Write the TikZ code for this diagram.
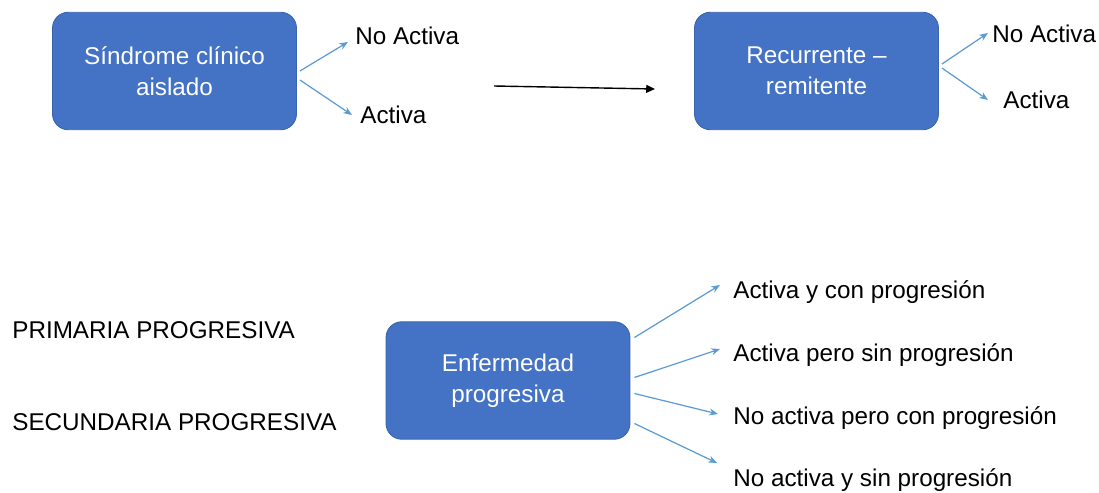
\documentclass[tikz,border=0pt]{standalone}
\usepackage{fontspec}
\setmainfont{Liberation Sans}
\usetikzlibrary{arrows.meta,calc}
\definecolor{boxblue}{HTML}{4472C4}
\definecolor{boxedge}{HTML}{3B64AE}
\definecolor{linkblue}{HTML}{5B9BD5}
\tikzset{
  formabox/.style={draw=boxedge, line width=0.5pt, fill=boxblue, rounded corners=9pt,
    text=white, align=center, minimum width=4.88cm, minimum height=2.35cm,
    font=\fontsize{13.8}{17.6}\selectfont},
  rama/.style={anchor=base west, inner sep=0pt, font=\fontsize{13.8}{16}\selectfont},
  flecha/.style={draw=linkblue, line width=0.7pt, -{Stealth[length=5pt,width=4pt]}},
}

\begin{document}
\begin{tikzpicture}[x=0.02cm, y=-0.02cm]
	%%%%% START %%%%%
	\useasboundingbox (0,0) rectangle (1099,493);
	
	% boxes
	\node[formabox] (sca) at (174.5,71) {Síndrome clínico\\aislado};
	\node[formabox] (rr) at (816.5,71) {Recurrente –\\remitente};
	\node[formabox] (ep) at (508,380.5) {Enfermedad\\progresiva};
	
	% labels
	\node[rama] (scano) at (355,45) {No Activa};
	\node[rama] (scasi) at (360,124) {Activa};
	\node[rama] (rrno) at (992,43) {No Activa};
	\node[rama] (rrsi) at (1003,109) {Activa};
	
	\node[rama] (ep1) at (733,298) {Activa y con progresión};
	\node[rama] (ep2) at (733,361) {Activa pero sin progresión};
	\node[rama] (ep3) at (733,424) {No activa pero con progresión};
	\node[rama] (ep4) at (733,486) {No activa y sin progresión};
	
	\node[rama] (pp) at (12,338) {PRIMARIA PROGRESIVA};
	\node[rama] (sp) at (12,430) {SECUNDARIA PROGRESIVA};
	
	% branches
	\draw[flecha] ($(sca.east)+(3,0)$) -- ($(scano.base west)+(-7,-3)$);
	\draw[flecha] ($(sca.east)+(3,9)$) -- ($(scasi.base west)+(-8,-9)$);
	\draw[flecha] ($(rr.east)+(3,-7)$) -- ($(rrno.base west)+(-4,-10)$);
	\draw[flecha] ($(rr.east)+(3,-3)$) -- ($(rrsi.base west)+(-15,-9)$);
	
	\draw[flecha] ($(ep.east)+(4,-43)$) -- ($(ep1.base west)+(-13,-13)$);
	\draw[flecha] ($(ep.east)+(4,-3)$) -- ($(ep2.base west)+(-13,-12)$);
	\draw[flecha] ($(ep.east)+(4,13)$) -- ($(ep3.base west)+(-15,-10)$);
	\draw[flecha] ($(ep.east)+(4,43)$) -- ($(ep4.base west)+(-16,-23)$);
	
	% transition
	\coordinate (desde) at (494,86);
	\coordinate (hasta) at (655,89);
	\draw[line width=0.8pt, -{Triangle[length=5pt,width=4.5pt]}] (desde) -- (hasta);
	
	%%%%% END %%%%%
\end{tikzpicture}
\end{document}
